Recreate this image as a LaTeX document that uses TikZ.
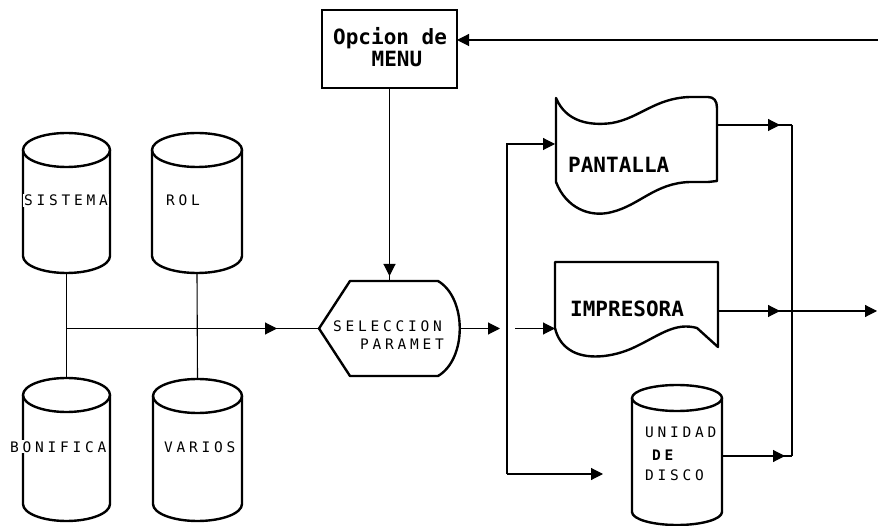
\documentclass[tikz,border=0pt]{standalone}
\usepackage{fontspec}
\usetikzlibrary{arrows.meta,decorations.markings,calc}
\newfontfamily\lightfont[LetterSpace=26]{DejaVu Sans Mono}
\newfontfamily\headfont{DejaVu Sans Mono}
\newcommand\drawcyl[5]{%
  \draw[outl] (#1,#2+#5) ellipse[x radius=#4, y radius=#5];
  \draw[outl] (#1-#4,#2+#5) -- (#1-#4,#3-#5) arc[start angle=180,end angle=0,x radius=#4,y radius=#5] -- (#1+#4,#2+#5);}
\begin{document}
\begin{tikzpicture}[x=1pt,y=-1pt,
  outl/.style={line width=2.4pt, line join=round},
  conn/.style={line width=1.1pt},
  arr/.style={conn,-{Triangle[length=12pt,width=12pt]}},
  midarr/.style={conn, postaction={decorate}, decoration={markings, mark=at position #1 with {\arrow{Triangle[length=12pt,width=12pt]}}}},
  shapebox/.style={inner sep=0pt, outer sep=0pt},
  lt/.style={font=\lightfont\fontsize{14.5}{16}\selectfont, anchor=base west, inner sep=1pt},
  hd/.style={font=\headfont\bfseries\fontsize{21}{22}\selectfont, anchor=base west, inner sep=0pt},
]
\useasboundingbox (0,0) rectangle (878,526);

% shape nodes (bounding boxes)
\node[shapebox, draw, line width=2.4pt, minimum width=135pt, minimum height=78pt] (menu) at (389.5,49) {};
\node[shapebox, minimum width=87pt, minimum height=140pt] (sis) at (66.5,203) {};
\node[shapebox, minimum width=90pt, minimum height=140pt] (rol) at (197,203) {};
\node[shapebox, minimum width=87pt, minimum height=143pt] (bon) at (66.5,449.5) {};
\node[shapebox, minimum width=89pt, minimum height=142pt] (var) at (197.5,450) {};
\node[shapebox, minimum width=141pt, minimum height=95pt] (sel) at (389.5,328.5) {};
\node[shapebox, minimum width=163pt, minimum height=119pt] (pan) at (636.5,156.5) {};
\node[shapebox, minimum width=163pt, minimum height=96pt] (imp) at (636.5,310) {};
\node[shapebox, minimum width=90pt, minimum height=140pt] (dsk) at (677,455) {};

% outlines
\drawcyl{66.5}{133}{273}{43.5}{17}
\drawcyl{197}{133}{273}{45}{17}
\drawcyl{66.5}{378}{521}{43.5}{17}
\drawcyl{197.5}{379}{521}{44.5}{17}
\drawcyl{677}{385}{525}{45}{13}
\draw[outl] (319,328.5) -- (350,281) -- (438,281) .. controls (467,298) and (467,359) .. (438,376) -- (350,376) -- cycle;
\draw[outl] (556,98) .. controls (566,122) and (590,126) .. (612,123)
  .. controls (640,118) and (655,98) .. (690,97) -- (708,97)
  .. controls (714,97) and (717,101) .. (717,108) -- (717,181) -- (708,182) -- (690,182)
  .. controls (655,183) and (640,205) .. (612,212)
  .. controls (590,218) and (566,208) .. (556,182) -- cycle;
\draw[outl] (555,262) -- (718,262) -- (718,347) -- (697,328)
  .. controls (675,322) and (660,335) .. (635,347)
  .. controls (612,358) and (585,360) .. (570,350)
  .. controls (562,345) and (557,337) .. (555,328) -- cycle;

% texts
\node[hd] (tmenu1) at (333,45) {Opcion de};
\node[hd] (tmenu2) at (371.5,67) {MENU};
\node[lt, fill=white] (tsis) at (23,206) {SISTEMA};
\node[lt] (trol) at (165,206) {ROL};
\node[lt, fill=white] (tbon) at (9,452) {BONIFICA};
\node[lt, fill=white] (tvar) at (163,452) {VARIOS};
\node[lt] (tsel1) at (332,332) {SELECCION};
\node[lt] (tsel2) at (359,350) {PARAMET};
\node[hd] (tpan) at (568,173) {PANTALLA};
\node[hd] (timp) at (570,317) {IMPRESORA};
\node[lt, fill=white] (tu1) at (644,437) {UNIDAD};
\node[lt] (tu2) at (651,460) {\bfseries DE};
\node[lt] (tu3) at (644,480) {DISCO};

% connectors
\coordinate (j1) at (sis.south |- sel.west);
\draw[conn] (sis.south) -- (bon.north);
\draw[conn] (rol.south) -- (var.north);
\draw[midarr=-42pt] (j1) -- (sel.west);
\draw[midarr=-5pt] (menu.south) -- (sel.north);
\coordinate (fb) at (878,40);
\draw[arr] (fb) -- (fb -| menu.east);
\coordinate (s1) at (500,328.5);
\draw[arr] (sel.east) -- (s1);
\coordinate (vt) at (507,144);
\coordinate (vb) at (507,474);
\draw[arr] (vb) -- (vt) -- (vt -| pan.west);
\draw[arr, shorten >=29pt] (vb) -- (vb -| dsk.west);
\coordinate (m1) at (515,328.5);
\draw[arr] (m1) -- (m1 -| imp.west);
\coordinate (r1) at (792,125);
\coordinate (r2) at (792,456);
\coordinate (rm) at (792,311);
\coordinate (out) at (877,311);
\draw[midarr=-12pt] (r1 -| pan.east) -- (r1);
\draw[conn] (r1) -- (r2);
\draw[midarr=-12pt] (rm -| imp.east) -- (rm);
\draw[arr] (rm) -- (out);
\draw[midarr=-7pt] (r2 -| dsk.east) -- (r2);
\end{tikzpicture}
\end{document}
